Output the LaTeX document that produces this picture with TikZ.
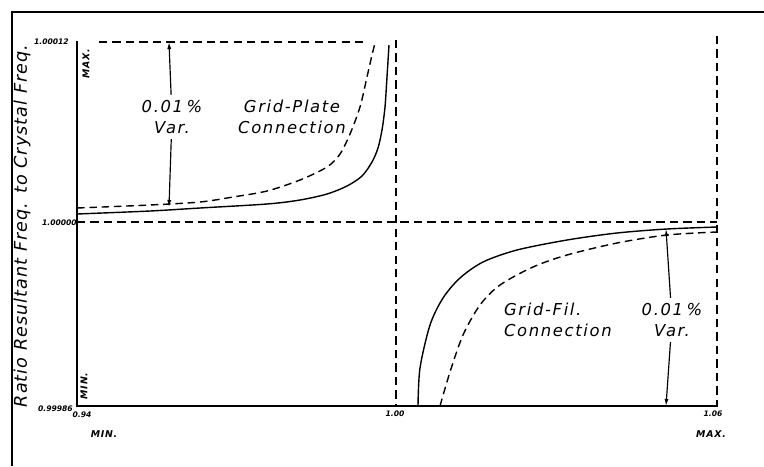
\documentclass[tikz,border=0pt]{standalone}
\usepackage{fontspec}
\setmainfont{DejaVu Sans}
\usetikzlibrary{arrows.meta}

\tikzset{
  guide/.style={dash pattern=on 7pt off 4.5pt, line width=1.1pt},
  curve/.style={line width=1.2pt},
  curvedash/.style={curve, dash pattern=on 6.5pt off 4pt},
  axisline/.style={line width=1.4pt},
  letter/.style={font=\fontsize{14}{18}\selectfont\itshape\addfontfeature{LetterSpace=10}, align=center},
  ticklabel/.style={font=\fontsize{6.5}{7}\selectfont\bfseries\itshape, inner sep=0pt},
  endlabel/.style={font=\fontsize{8}{9}\selectfont\bfseries\itshape\addfontfeature{LetterSpace=8}, inner sep=0pt},
  vararrow/.style={-{Latex[length=6pt,width=3.5pt]}, line width=1pt, shorten <=1pt},
}

\begin{document}
\begin{tikzpicture}[x=0.03cm,y=-0.03cm]
  \useasboundingbox (0,0) rectangle (764,466);

  % frame
  \draw[line width=2pt] (12,466) -- (12,12) -- (764,12);

  % axes
  \coordinate (top) at (77,41);
  \coordinate (origin) at (77,406);
  \coordinate (right) at (718,406);
  \draw[axisline] (top) -- (origin) -- (right);

  % guide lines
  \draw[guide] (99,42) -- (367,42);
  \draw[guide] (77,222) -- (717,222);
  \draw[guide] (396,40) -- (396,406);
  \draw[guide] (717,36) -- (717,406);

  % grid-plate curves
  \draw[curve] plot[smooth, tension=0.5] coordinates {(77,214) (150,211) (200,208)
    (267,204) (300,200) (327,194) (347,186) (362,176) (372,162) (378,148)
    (382,130) (385,107) (387,77) (389,45)};
  \draw[curvedash] plot[smooth] coordinates {(77,208) (150,205) (200,202) (233,197)
    (267,191) (300,180) (327,167) (340,154) (350,134) (360,107) (367,77) (372,55) (375,43)};

  % grid-fil. curves
  \draw[curve] plot[smooth] coordinates {(418,406) (420,368) (430,325) (443,298)
    (460,278) (483,262) (517,250) (567,240) (617,233) (667,229) (717,227)};
  \draw[curvedash] plot[smooth] coordinates {(440,406) (450,372) (463,335) (480,305)
    (500,285) (533,267) (567,255) (617,243) (667,235) (717,232)};

  % labels
  \node[letter, rotate=90, font=\fontsize{15}{18}\selectfont\itshape\addfontfeature{LetterSpace=6}]
    (ylabel) at (22,226) {Ratio Resultant Freq. to Crystal Freq.};
  \node[letter] (plate) at (292,117) {Grid-Plate\\Connection};
  \node[letter, align=left, anchor=west] (fil) at (500,320) {Grid-Fil.\\Connection};

  \node[letter] (varA) at (172,117) {0.01\kern3pt\%\\Var.};
  \node[letter] (varB) at (672,320) {0.01\kern3pt\%\\Var.};
  \coordinate (varAtop) at (169,42);
  \coordinate (varAbot) at (169,207);
  \coordinate (varBtop) at (666,229);
  \coordinate (varBbot) at (666,406);
  \path[vararrow] (varA) edge (varAtop);
  \path[vararrow] (varA) edge (varAbot);
  \path[vararrow] (varB) edge (varBtop);
  \path[vararrow] (varB) edge (varBbot);

  % scale marks
  \node[ticklabel, anchor=east] (yhi) at (69,42) {1.00012};
  \node[ticklabel, anchor=east] (ymid) at (77,223) {1.00000};
  \node[ticklabel, anchor=east] (ylo) at (73,409) {0.99986};
  \node[ticklabel] (xlo) at (82,415) {0.94};
  \node[ticklabel] (xmid) at (395,414) {1.00};
  \node[ticklabel] (xhi) at (713,414) {1.06};

  \node[endlabel, rotate=90] (ymax) at (86,64) {MAX.};
  \node[endlabel, rotate=90] (ymin) at (84,386) {MIN.};
  \node[endlabel] (xmin) at (104,434) {MIN.};
  \node[endlabel] (xmax) at (711,434) {MAX.};
\end{tikzpicture}
\end{document}
